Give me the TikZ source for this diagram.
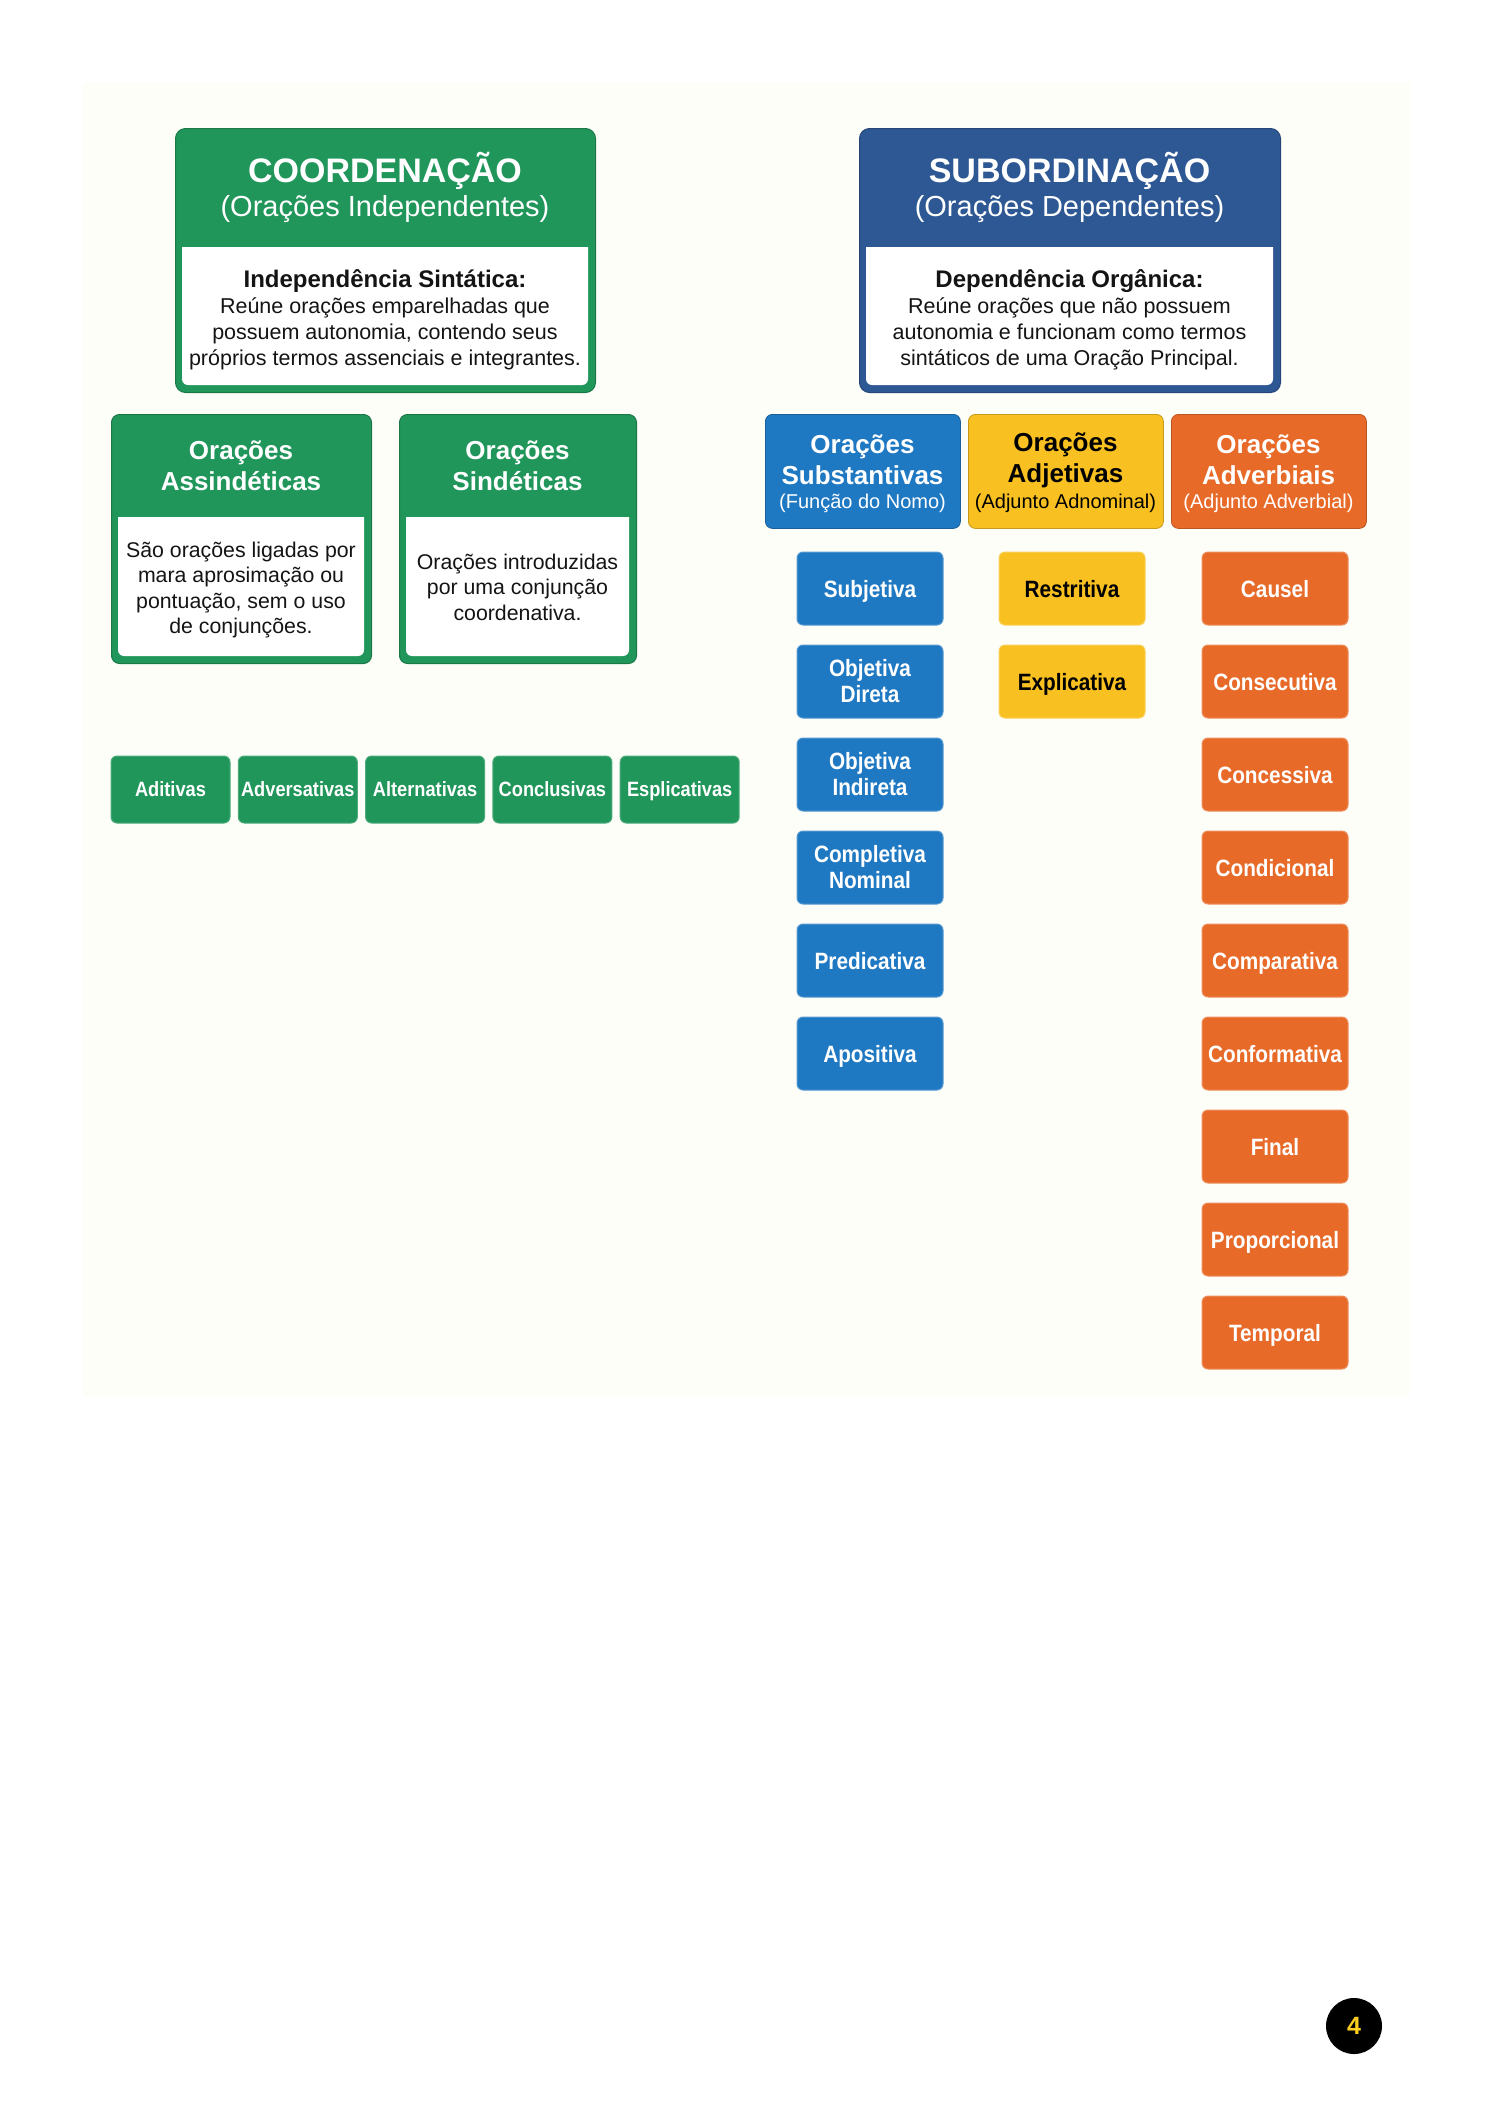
\documentclass[tikz,border=0pt]{standalone}
\usepackage{fontspec}
\setmainfont{Liberation Sans}
\newfontfamily\narrowfont[FakeStretch=0.88]{Liberation Sans}
\definecolor{cgreen}{RGB}{33,150,91}
\definecolor{cnavy}{RGB}{46,88,148}
\definecolor{cblue}{RGB}{31,120,194}
\definecolor{cyellow}{RGB}{248,192,32}
\definecolor{corange}{RGB}{232,106,40}
\definecolor{cpanel}{RGB}{254,254,249}
\definecolor{cpagenum}{RGB}{250,205,30}
\definecolor{cbody}{RGB}{20,20,20}
\newcommand\whitebody[4]{\fill[white] (#1,#2) -- (#3,#2) [rounded corners=6pt] -- (#3,#4) -- (#1,#4) [sharp corners] -- cycle;}
\begin{document}
\begin{tikzpicture}[x=1pt,y=-1pt,
  panel/.style={rounded corners=10pt, inner sep=0pt, draw=#1!80!black, line width=1pt, fill=#1, anchor=north west},
  hdrtitle/.style={text=white, font=\bfseries\fontsize{34}{38}\selectfont, inner sep=0pt},
  hdrsub/.style={text=white, font=\fontsize{29}{33}\selectfont, inner sep=0pt},
  bodytext/.style={text=cbody, align=center, inner sep=0pt, font=\fontsize{21.3}{25.5}\selectfont},
  midtitle/.style={text=white, align=center, inner sep=0pt, font=\bfseries\fontsize{26}{31}\selectfont},
  cathead/.style={rounded corners=7pt, inner sep=0pt, minimum width=195pt, minimum height=114pt, draw=#1!80!black, line width=0.8pt, fill=#1, anchor=north west},
  subbox/.style={rounded corners=6pt, inner sep=0pt, minimum width=146pt, minimum height=73pt, draw=#1!75!white, line width=1pt, fill=#1, align=center, text=white, font=\narrowfont\bfseries\fontsize{23.6}{26}\selectfont},
  onel/.style={text height=17pt, text depth=0pt},
  btn/.style={rounded corners=6pt, inner sep=0pt, minimum width=119pt, minimum height=67pt, draw=cgreen!80!white, line width=1pt, fill=cgreen, text=white, font=\narrowfont\bfseries\fontsize{20.7}{24}\selectfont, text height=14.9pt, text depth=0pt}
]
\useasboundingbox (0,0) rectangle (1489,2105);
\fill[white] (0,0) rectangle (1489,2105);
\fill[cpanel] (83,82) rectangle (1410,1396);

% ---- COORDENACAO
\node[panel=cgreen, minimum width=420pt, minimum height=264pt] (coord) at (175,128) {};
\whitebody{182}{247}{588}{385}
\node[hdrtitle] (coordtitle) at (385,171) {COORDENAÇÃO};
\node[hdrsub] (coordsub) at (385,209) {(Orações Independentes)};
\node[bodytext, font=\fontsize{21.5}{26}\selectfont] (coordtext) at (385,320) {{\bfseries\fontsize{24}{26}\selectfont Independência Sintática:}\\Reúne orações emparelhadas que\\possuem autonomia, contendo seus\\próprios termos assenciais e integrantes.};

% ---- SUBORDINACAO
\node[panel=cnavy, minimum width=421pt, minimum height=264pt] (subord) at (859,128) {};
\whitebody{866}{247}{1273}{385}
\node[hdrtitle] (subtitle) at (1069.5,171) {SUBORDINAÇÃO};
\node[hdrsub] (subsub) at (1069.5,209) {(Orações Dependentes)};
\node[bodytext, font=\fontsize{21.5}{26}\selectfont] (subtext) at (1069.5,320) {{\bfseries\fontsize{24}{26}\selectfont Dependência Orgânica:}\\Reúne orações que não possuem\\autonomia e funcionam como termos\\sintáticos de uma Oração Principal.};

% ---- Assindeticas / Sindeticas
\node[panel=cgreen, minimum width=260pt, minimum height=249pt, rounded corners=8pt] (assind) at (111,414) {};
\whitebody{118}{517}{364}{656}
\node[midtitle] (assindtitle) at (241,466) {Orações\\Assindéticas};
\node[bodytext] (assindtext) at (241,590) {São orações ligadas por\\mara aprosimação ou\\pontuação, sem o uso\\de conjunções.};

\node[panel=cgreen, minimum width=237pt, minimum height=249pt, rounded corners=8pt] (sind) at (399,414) {};
\whitebody{406}{517}{629}{656}
\node[midtitle] (sindtitle) at (517.5,466) {Orações\\Sindéticas};
\node[bodytext] (sindtext) at (517.5,587) {Orações introduzidas\\por uma conjunção\\coordenativa.};

% ---- five coordinate types
\node[btn] (aditivas) at (170.5,789.5) {Aditivas};
\node[btn] (adversativas) at (297.8,789.5) {Adversativas};
\node[btn] (alternativas) at (425.1,789.5) {Alternativas};
\node[btn] (conclusivas) at (552.4,789.5) {Conclusivas};
\node[btn] (esplicativas) at (679.7,789.5) {Esplicativas};

% ---- category headers
\node[cathead=cblue] (substhead) at (765,414) {};
\node[cathead=cyellow] (adjhead) at (968,414) {};
\node[cathead=corange] (advhead) at (1171,414) {};
\node[midtitle, text=white] (substtitle) at (862.5,460) {Orações\\Substantivas};
\node[text=white, inner sep=0pt, font=\fontsize{20}{24}\selectfont] (substsub) at (862.5,503) {(Função do Nomo)};
\node[midtitle, text=black] (adjtitle) at (1065.5,460) {Orações\\Adjetivas};
\node[text=black, inner sep=0pt, font=\fontsize{20}{24}\selectfont] (adjsub) at (1065.5,503) {(Adjunto Adnominal)};
\node[midtitle, text=white] (advtitle) at (1268.5,460) {Orações\\Adverbiais};
\node[text=white, inner sep=0pt, font=\fontsize{20}{24}\selectfont] (advsub) at (1268.5,503) {(Adjunto Adverbial)};

% ---- substantivas
\node[subbox=cblue, onel] (subjetiva) at (870,588.5) {Subjetiva};
\node[subbox=cblue] (objdireta) at (870,681.5) {Objetiva\\Direta};
\node[subbox=cblue] (objindireta) at (870,774.5) {Objetiva\\Indireta};
\node[subbox=cblue] (complnominal) at (870,867.5) {Completiva\\Nominal};
\node[subbox=cblue, onel] (predicativa) at (870,960.5) {Predicativa};
\node[subbox=cblue, onel] (apositiva) at (870,1053.5) {Apositiva};

% ---- adjetivas
\node[subbox=cyellow, onel, text=black] (restritiva) at (1072,588.5) {Restritiva};
\node[subbox=cyellow, onel, text=black] (explicativa) at (1072,681.5) {Explicativa};

% ---- adverbiais
\node[subbox=corange, onel] (causel) at (1275,588.5) {Causel};
\node[subbox=corange, onel] (consecutiva) at (1275,681.5) {Consecutiva};
\node[subbox=corange, onel] (concessiva) at (1275,774.5) {Concessiva};
\node[subbox=corange, onel] (condicional) at (1275,867.5) {Condicional};
\node[subbox=corange, onel] (comparativa) at (1275,960.5) {Comparativa};
\node[subbox=corange, onel] (conformativa) at (1275,1053.5) {Conformativa};
\node[subbox=corange, onel] (final) at (1275,1146.5) {Final};
\node[subbox=corange, onel] (proporcional) at (1275,1239.5) {Proporcional};
\node[subbox=corange, onel] (temporal) at (1275,1332.5) {Temporal};

% ---- page number
\node[circle, fill=black, minimum size=56pt, inner sep=0pt, text=cpagenum, font=\bfseries\fontsize{25}{25}\selectfont] (pagenum) at (1354,2026) {4};
\end{tikzpicture}
\end{document}
